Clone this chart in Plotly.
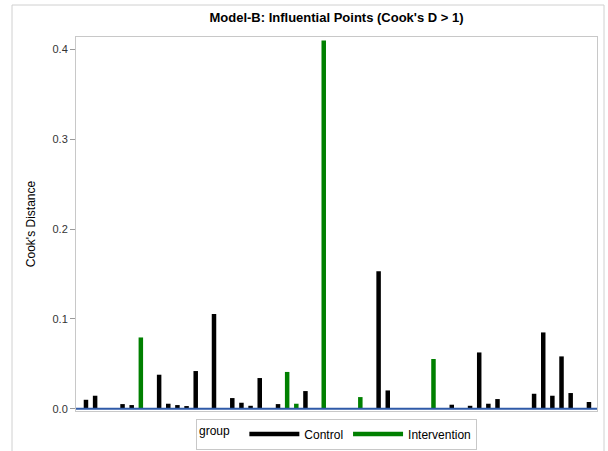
import plotly.graph_objects as go

# Observation index (position along x), Cook's distance, and group
obs = [0, 1, 2, 4, 5, 6, 7, 8, 9, 10, 11, 12, 14, 16, 17, 18, 19, 21, 22, 23, 24,
       26, 28, 30, 31, 32, 33, 38, 40, 41, 42, 43, 44, 45, 46, 48, 49, 50, 51, 52, 53, 55]
cooksd = [0.0100, 0.0145, 0.0008, 0.0052, 0.0041, 0.0794, 0.0006, 0.0379, 0.0056, 0.0041,
          0.0030, 0.0420, 0.1055, 0.0119, 0.0067, 0.0033, 0.0342, 0.0052, 0.0410, 0.0056,
          0.0197, 0.4100, 0.0008, 0.0130, 0.0008, 0.1530, 0.0204, 0.0554, 0.0045, 0.0008,
          0.0033, 0.0627, 0.0056, 0.0108, 0.0006, 0.0008, 0.0167, 0.0850, 0.0145, 0.0583,
          0.0175, 0.0075]
group = ["Control", "Control", "Intervention", "Control", "Control", "Intervention", "Control",
         "Control", "Control", "Control", "Control", "Control", "Control", "Control", "Control",
         "Control", "Control", "Control", "Intervention", "Intervention", "Control",
         "Intervention", "Intervention", "Intervention", "Intervention", "Control", "Control",
         "Intervention", "Control", "Intervention", "Control", "Control", "Control", "Control",
         "Control", "Intervention", "Control", "Control", "Control", "Control", "Control", "Control"]

groups = ["Control", "Intervention"]
colors = {"Control": "#000000", "Intervention": "#008000"}

W, H = 608, 451
ML, MR, MT, MB = 76, 11, 37, 0
PLOT_BOTTOM = 411
paper_h = H - MT - MB
paper_w = W - ML - MR


def py(pix):  # pixel row -> paper y
    return (H - MB - pix) / paper_h


def px(pix):  # pixel col -> paper x
    return (pix - ML) / paper_w


fig = go.Figure()
for g in groups:
    xs, ys = [], []
    for o, v, gg in zip(obs, cooksd, group):
        if gg == g:
            xs += [o, o, None]
            ys += [0, v, None]
    fig.add_trace(go.Scatter(x=xs, y=ys, mode="lines", name=g,
                             line=dict(color=colors[g], width=4.5),
                             hoverinfo="skip"))

# baseline reference line
fig.add_shape(type="line", xref="paper", yref="y", x0=0, x1=1, y0=0, y1=0,
              line=dict(color="#2f5aa8", width=2), layer="above")
# outer graph border
fig.add_shape(type="rect", xref="paper", yref="paper",
              x0=px(12), x1=px(604), y0=py(458), y1=py(5),
              line=dict(color="#d0d0d0", width=1), fillcolor="rgba(0,0,0,0)", layer="below")

fig.update_layout(
    width=W, height=H,
    margin=dict(l=ML, r=MR, t=MT, b=MB, autoexpand=False),
    paper_bgcolor="white", plot_bgcolor="white",
    font=dict(family="Arial, Liberation Sans, sans-serif", size=12, color="#333333"),
    title=dict(text="<b>Model-B: Influential Points (Cook's D > 1)</b>",
               x=(76 + 597) / 2 / W, xanchor="center", y=1 - 17 / H, yanchor="middle",
               font=dict(size=13, color="#000000")),
    showlegend=True,
    legend=dict(orientation="h", x=0.5, xanchor="center", y=py(434), yanchor="middle",
                bordercolor="#c8c8c8", borderwidth=1, bgcolor="white",
                title=dict(text="group  ", side="left",
                           font=dict(size=12, color="#000000")),
                font=dict(size=12, color="#000000"),
                itemwidth=50, tracegroupgap=0),
    xaxis=dict(range=[-1.09, 55.88], showticklabels=False, ticks="", showgrid=False,
               zeroline=False, showline=True, mirror=True, linecolor="#c8c8c8", linewidth=1,
               anchor="y"),
    yaxis=dict(domain=[py(PLOT_BOTTOM), 1],
               range=[-0.0025, 0.414], tickvals=[0, 0.1, 0.2, 0.3, 0.4],
               tickformat=".1f", ticks="outside", ticklen=5, tickcolor="#9a9a9a",
               showgrid=False, zeroline=False, showline=True, mirror=True,
               linecolor="#c8c8c8", linewidth=1,
               tickfont=dict(size=11, color="#333333"),
               title=dict(text="Cook's Distance", font=dict(size=12, color="#000000"),
                          standoff=14)),
)

fig.write_html("out.html")
